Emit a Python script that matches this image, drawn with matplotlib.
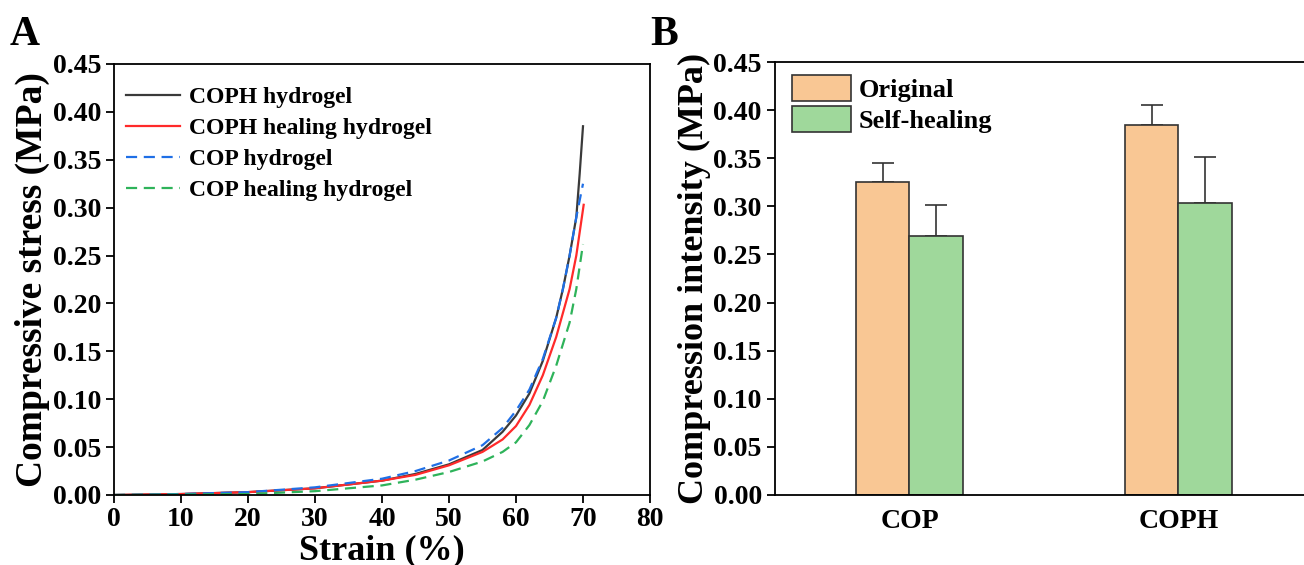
"""Compression of COP / COPH hydrogels: stress-strain curves (A) and strength bars (B)."""
import numpy as np
import matplotlib
matplotlib.use("Agg")
import matplotlib.pyplot as plt

plt.rcParams.update({"font.family": "Liberation Serif", "font.weight": "bold",
                     "axes.labelweight": "bold", "axes.linewidth": 1.3,
                     "xtick.major.width": 1.3, "ytick.major.width": 1.3,
                     "xtick.major.size": 6, "ytick.major.size": 6})

# Panel A: stress-strain curves
strain_coph = [0, 10, 20, 30, 40, 45, 50, 55, 58, 60, 62, 64, 66, 67, 68, 69, 69.5, 70]
stress_coph = [0, 0.001, 0.003, 0.007, 0.015, 0.022, 0.032, 0.047, 0.066, 0.083, 0.106,
               0.14, 0.185, 0.215, 0.25, 0.29, 0.335, 0.385]
strain_coph_heal = [0, 10, 20, 30, 40, 45, 50, 55, 58, 60, 62, 64, 66, 68, 69, 70.1]
stress_coph_heal = [0, 0.001, 0.003, 0.007, 0.015, 0.021, 0.031, 0.045, 0.058, 0.072, 0.094,
                    0.125, 0.165, 0.215, 0.25, 0.303]
strain_cop = [0, 10, 20, 30, 40, 45, 50, 55, 58, 60, 62, 64, 66, 67, 68, 69, 70]
stress_cop = [0, 0.001, 0.003, 0.008, 0.017, 0.025, 0.036, 0.052, 0.07, 0.088, 0.11,
              0.142, 0.185, 0.215, 0.25, 0.29, 0.325]
strain_cop_heal = [0, 10, 20, 30, 40, 45, 50, 55, 58, 60, 62, 64, 66, 68, 69, 70]
stress_cop_heal = [0, 0.0005, 0.001, 0.004, 0.01, 0.016, 0.024, 0.035, 0.045, 0.055, 0.073,
                   0.098, 0.135, 0.18, 0.215, 0.262]

# Panel B: compressive strength
groups = ["COP", "COPH"]
original = [0.325, 0.385]
original_err = [0.02, 0.02]
healed = [0.269, 0.303]
healed_err = [0.032, 0.048]

W, H = 1304, 565
fig = plt.figure(figsize=(W / 100, H / 100), dpi=100)

axA = fig.add_axes([114 / W, 1 - 495 / H, (650 - 114) / W, (495 - 64) / H])
axA.plot(strain_coph, stress_coph, color="#3a3a3a", lw=1.6, label="COPH hydrogel")
axA.plot(strain_coph_heal, stress_coph_heal, color="#ff2a2a", lw=1.6, label="COPH healing hydrogel")
axA.plot(strain_cop, stress_cop, color="#1f6fe6", lw=1.6, ls=(0, (5, 3)), label="COP hydrogel")
axA.plot(strain_cop_heal, stress_cop_heal, color="#2eb35a", lw=1.6, ls=(0, (5, 3)),
         label="COP healing hydrogel")
axA.set_xlim(0, 80)
axA.set_ylim(0, 0.45)
axA.set_xticks(np.arange(0, 81, 10))
axA.set_yticks(np.arange(0, 0.451, 0.05))
axA.yaxis.set_major_formatter(matplotlib.ticker.FormatStrFormatter("%.2f"))
axA.tick_params(labelsize=20, pad=3)
axA.set_xlabel("Strain (%)", fontsize=26, labelpad=1)
axA.set_ylabel("Compressive stress (MPa)", fontsize=27, labelpad=2)
axA.legend(loc="upper left", bbox_to_anchor=(-0.02, 1.0), frameon=False, handlelength=2.3,
           handletextpad=0.4, labelspacing=0.4, borderaxespad=0.65, borderpad=0.3,
           prop={"size": 17, "weight": "bold"})
fig.text(10 / W, 1 - 45 / H, "A", fontsize=30, fontweight="bold")

axB = fig.add_axes([775 / W, 1 - 495 / H, (1313 - 775) / W, (495 - 62) / H])
x = np.arange(len(groups))
bw = 0.2
axB.bar(x - bw / 2, original, bw, color="#f9c794", edgecolor="#333333", lw=1.2,
        label="Original", zorder=2)
axB.bar(x + bw / 2, healed, bw, color="#9fd89b", edgecolor="#333333", lw=1.2,
        label="Self-healing", zorder=2)
axB.errorbar(x - bw / 2, original, yerr=[[0] * 2, original_err], fmt="none",
             ecolor="#333333", elinewidth=1.2, capsize=8, capthick=1.2, zorder=1)
axB.errorbar(x + bw / 2, healed, yerr=[[0] * 2, healed_err], fmt="none",
             ecolor="#333333", elinewidth=1.2, capsize=8, capthick=1.2, zorder=1)
axB.set_xlim(-0.5, 1.5)
axB.set_ylim(0, 0.45)
axB.set_yticks(np.arange(0, 0.451, 0.05))
axB.yaxis.set_major_formatter(matplotlib.ticker.FormatStrFormatter("%.2f"))
axB.set_xticks(x)
axB.set_xticklabels(groups)
axB.tick_params(axis="x", length=0, pad=10)
axB.tick_params(labelsize=20)
axB.set_ylabel("Compression intensity (MPa)", fontsize=26, labelpad=2)
axB.legend(loc="upper left", bbox_to_anchor=(0.008, 1.0), frameon=False, handlelength=2.2,
           handleheight=1.15, handletextpad=0.3, labelspacing=0.15, borderaxespad=0.2,
           borderpad=0.3, prop={"size": 19, "weight": "bold"})
fig.text(650 / W, 1 - 45 / H, "B", fontsize=30, fontweight="bold")

fig.savefig("out.png", dpi=100)
